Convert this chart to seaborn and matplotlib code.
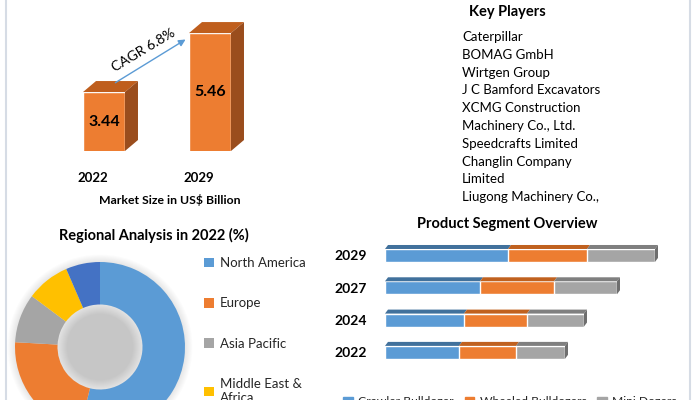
import numpy as np
import pandas as pd
import matplotlib
matplotlib.use("Agg")
import matplotlib.pyplot as plt
from matplotlib.patches import Polygon, Patch, Circle
from matplotlib.lines import Line2D
import matplotlib.transforms as mtransforms
import seaborn as sns


# DATA

market_years = ["2022", "2029"]
market_size = [3.44, 5.46]
cagr_label = "CAGR 6.8%"
market_title = "Market Size in US$ Billion"

key_players = [
    "Caterpillar",
    "BOMAG GmbH",
    "Wirtgen Group",
    "J C Bamford Excavators",
    "XCMG Construction",
    "Machinery Co., Ltd.",
    "Speedcrafts Limited",
    "Changlin Company",
    "Limited",
    "Liugong Machinery Co.,",
]

regions = ["North America", "Europe", "Asia Pacific", "Middle East &\nAfrica", "South America"]
region_share = [53.8, 22.1, 9.3, 8.3, 6.5]
region_colors = ["#5B9BD5", "#ED7D31", "#A5A5A5", "#FFC000", "#4472C4"]

segment_years = ["2029", "2027", "2024", "2022"]
crawler = [2.46, 1.90, 1.58, 1.48]
wheeled = [1.58, 1.48, 1.26, 1.14]
mini = [1.36, 1.26, 1.14, 0.98]
segments = ["Crawler Bulldozer", "Wheeled Bulldozers", "Mini Dozers"]
segment_colors = ["#5B9BD5", "#ED7D31", "#A5A5A5"]
segment_tops = ["#41719C", "#C0611F", "#7F7F7F"]


# SETUP

W, H = 697, 400
sns.set_theme(style="white")
plt.rcParams["font.family"] = ["Lato", "DejaVu Sans"]

fig = plt.figure(figsize=(W / 100, H / 100), dpi=100)


def px_rect(left, top, right, bottom):
    return [left / W, 1 - bottom / H, (right - left) / W, (bottom - top) / H]


def fx(x):
    return x / W


def fy(y):
    return 1 - y / H


# MARKET SIZE BARS

ax1 = fig.add_axes(px_rect(51, 10, 263, 151))
df_m = pd.DataFrame({"year": market_years, "size": market_size})
sns.barplot(data=df_m, x="year", y="size", color="#ED7D31", saturation=1,
            width=0.396, ax=ax1)
y0, y1 = 1.42, 6.25
ax1.set_ylim(y0, y1)
ax1.set_xlim(-0.5, 1.5)
ax1.axis("off")

dx = 13 / 106
dy = 11 / 29.2
for bar in ax1.patches:
    x0 = bar.get_x()
    x1 = x0 + bar.get_width()
    h = bar.get_height()
    ax1.add_patch(Polygon([(x0, h), (x1, h), (x1 + dx, h + dy), (x0 + dx, h + dy)],
                          closed=True, color="#BF5E1D", lw=0))
    ax1.add_patch(Polygon([(x1, y0), (x1, h), (x1 + dx, h + dy), (x1 + dx, y0 + dy)],
                          closed=True, color="#9A4D1D", lw=0))

for i, v in enumerate(market_size):
    ax1.text(i, (y0 + v) / 2, f"{v:.2f}", ha="center", va="center",
             fontsize=11.5, fontweight="bold", color="black")
    ax1.text(i - 0.104, -0.19, market_years[i], ha="center", va="center",
             fontsize=9.5, fontweight="bold", color="black",
             transform=mtransforms.blended_transform_factory(ax1.transData, ax1.transAxes))

ax1.annotate("", xy=(0.792, 5.29), xytext=(0.085, 3.71),
             arrowprops=dict(arrowstyle="-|>", color="#5B9BD5", lw=1, mutation_scale=10))
ax1.text(0.377, 4.88, cagr_label, ha="center", va="center", rotation=31,
         fontsize=10, color="black")

fig.text(fx(169.5), fy(200.5), market_title, ha="center", va="center",
         fontsize=8.8, fontweight="bold", color="black")


# KEY PLAYERS

fig.text(fx(507), fy(12), "Key Players", ha="center", va="center",
         fontsize=10.5, fontweight="bold", color="black")
for k, name in enumerate(key_players):
    fig.text(fx(462), fy(37 + k * 17.8), name, ha="left", va="center",
             fontsize=9.5, color="black")


# REGIONAL DONUT

ax3 = fig.add_axes(px_rect(15, 262, 185, 432))
ax3.set_zorder(-1)
# soft shadow round the ring and inside the hole
for k in range(9):
    ax3.add_patch(Circle((0, 0), 1.0 + 0.011 * k, color="black", alpha=0.011,
                         lw=0, zorder=0, clip_on=False))
wedges, _ = ax3.pie(region_share, colors=region_colors, startangle=90,
                    counterclock=False,
                    wedgeprops=dict(width=0.5, edgecolor="none", zorder=1))
for k in range(10):
    ax3.add_patch(Circle((0, 0), 0.5 - 0.012 * k, color="black", alpha=0.01,
                         lw=0, zorder=2))
ax3.set_xlim(-1, 1)
ax3.set_ylim(-1, 1)

fig.text(fx(154), fy(235), "Regional Analysis in 2022 (%)", ha="center", va="center",
         fontsize=10.5, fontweight="bold", color="black")

fig.legend(wedges, regions, loc="upper left", bbox_to_anchor=(fx(204), fy(257)),
           frameon=False, fontsize=9.5, handlelength=0.75, handleheight=0.75,
           handletextpad=0.45, labelspacing=2.15, borderpad=0, borderaxespad=0)


# PRODUCT SEGMENT BARS

ax4 = fig.add_axes(px_rect(385, 239.3, 680, 368.5))
df_s = pd.DataFrame({"year": segment_years, "crawler": crawler,
                     "wheeled": wheeled, "mini": mini})
df_s["cw"] = df_s["crawler"] + df_s["wheeled"]
df_s["all"] = df_s["cw"] + df_s["mini"]

sns.barplot(data=df_s, y="year", x="all", color=segment_colors[2], saturation=1,
            width=0.4, orient="h", ax=ax4)
sns.barplot(data=df_s, y="year", x="cw", color=segment_colors[1], saturation=1,
            width=0.4, orient="h", ax=ax4)
sns.barplot(data=df_s, y="year", x="crawler", color=segment_colors[0], saturation=1,
            width=0.4, orient="h", ax=ax4)
ax4.set_xlim(0, 5.9)
ax4.set_ylim(3.5, -0.5)

sdx = 3 * 5.9 / 295
sdy = 4 / 32.3
for i in range(len(segment_years)):
    edges = [0, df_s["crawler"][i], df_s["cw"][i], df_s["all"][i]]
    yt = i - 0.2
    yb = i + 0.2
    for s in range(3):
        a, b = edges[s], edges[s + 1]
        ax4.add_patch(Polygon([(a, yt), (b, yt), (b + sdx, yt - sdy), (a + sdx, yt - sdy)],
                              closed=True, color=segment_tops[s], lw=0))
    e = edges[3]
    ax4.add_patch(Polygon([(e, yt), (e, yb), (e + sdx, yb - sdy), (e + sdx, yt - sdy)],
                          closed=True, color="#6E6E6E", lw=0))

ax4.set_xlabel("")
ax4.set_ylabel("")
ax4.set_xticks([])
ax4.tick_params(axis="y", length=0, pad=13)
for lab in ax4.get_yticklabels():
    lab.set_fontweight("bold")
    lab.set_fontsize(10)
    lab.set_color("black")
sns.despine(ax=ax4, left=True, bottom=True)

fig.text(fx(507), fy(224), "Product Segment Overview", ha="center", va="center",
         fontsize=10.5, fontweight="bold", color="black")

seg_handles = [Patch(color=c) for c in segment_colors]
fig.legend(seg_handles, segments, loc="center", bbox_to_anchor=(fx(510), fy(402)),
           ncol=3, frameon=False, fontsize=8.7, handlelength=0.8, handleheight=0.8,
           handletextpad=0.45, columnspacing=0.9, borderpad=0)


# BORDERS

for xb in [6, 690]:
    fig.add_artist(Line2D([fx(xb), fx(xb)], [0, 1], color="#D6DCE5", lw=1.5))

fig.savefig("out.png", dpi=100)
